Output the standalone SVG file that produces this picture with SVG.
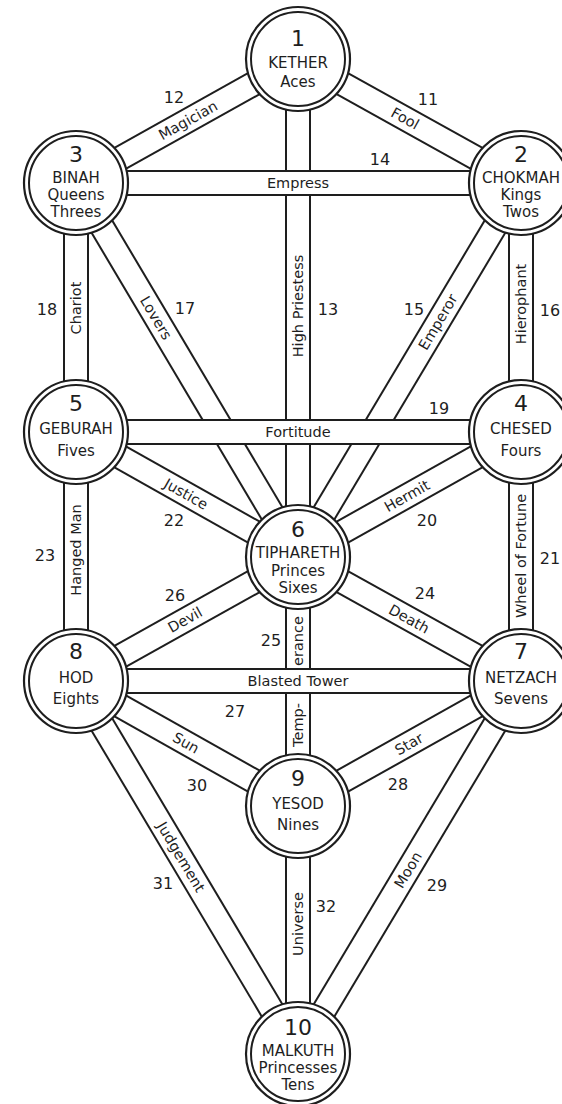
<svg xmlns="http://www.w3.org/2000/svg" width="562" height="1104" viewBox="0 0 562 1104">
<style>
.o{stroke:#1e1e1e;stroke-width:26;fill:none}
.i{stroke:#ffffff;stroke-width:22;fill:none}
.ring{fill:#ffffff;stroke:#1e1e1e;stroke-width:2.2}
.ring2{fill:none;stroke:#1e1e1e;stroke-width:2}
text{font-family:"DejaVu Sans",sans-serif;fill:#1e1e1e;text-anchor:middle}
.pl{font-size:14.5px;dominant-baseline:central}
.pn{font-size:16px;dominant-baseline:central}
.nd{font-size:22px}
.nn{font-size:15px}
</style>
<rect width="562" height="1104" fill="#ffffff"/>
<g id="connectors">
<g id="path-11"><line class="o" x1="298" y1="59" x2="521" y2="183"/><line class="i" x1="298" y1="59" x2="521" y2="183"/></g>
<g id="path-12"><line class="o" x1="298" y1="59" x2="76" y2="183"/><line class="i" x1="298" y1="59" x2="76" y2="183"/></g>
<g id="path-13"><line class="o" x1="298" y1="59" x2="298" y2="557"/><line class="i" x1="298" y1="59" x2="298" y2="557"/></g>
<g id="path-15"><line class="o" x1="521" y1="183" x2="298" y2="557"/><line class="i" x1="521" y1="183" x2="298" y2="557"/></g>
<g id="path-16"><line class="o" x1="521" y1="183" x2="521" y2="432"/><line class="i" x1="521" y1="183" x2="521" y2="432"/></g>
<g id="path-17"><line class="o" x1="76" y1="183" x2="298" y2="557"/><line class="i" x1="76" y1="183" x2="298" y2="557"/></g>
<g id="path-18"><line class="o" x1="76" y1="183" x2="76" y2="432"/><line class="i" x1="76" y1="183" x2="76" y2="432"/></g>
<g id="path-20"><line class="o" x1="521" y1="432" x2="298" y2="557"/><line class="i" x1="521" y1="432" x2="298" y2="557"/></g>
<g id="path-21"><line class="o" x1="521" y1="432" x2="521" y2="681"/><line class="i" x1="521" y1="432" x2="521" y2="681"/></g>
<g id="path-22"><line class="o" x1="76" y1="432" x2="298" y2="557"/><line class="i" x1="76" y1="432" x2="298" y2="557"/></g>
<g id="path-23"><line class="o" x1="76" y1="432" x2="76" y2="681"/><line class="i" x1="76" y1="432" x2="76" y2="681"/></g>
<g id="path-24"><line class="o" x1="298" y1="557" x2="521" y2="681"/><line class="i" x1="298" y1="557" x2="521" y2="681"/></g>
<g id="path-25"><line class="o" x1="298" y1="557" x2="298" y2="806"/><line class="i" x1="298" y1="557" x2="298" y2="806"/></g>
<g id="path-26"><line class="o" x1="298" y1="557" x2="76" y2="681"/><line class="i" x1="298" y1="557" x2="76" y2="681"/></g>
<g id="path-28"><line class="o" x1="521" y1="681" x2="298" y2="806"/><line class="i" x1="521" y1="681" x2="298" y2="806"/></g>
<g id="path-29"><line class="o" x1="521" y1="681" x2="298" y2="1054"/><line class="i" x1="521" y1="681" x2="298" y2="1054"/></g>
<g id="path-30"><line class="o" x1="76" y1="681" x2="298" y2="806"/><line class="i" x1="76" y1="681" x2="298" y2="806"/></g>
<g id="path-31"><line class="o" x1="76" y1="681" x2="298" y2="1054"/><line class="i" x1="76" y1="681" x2="298" y2="1054"/></g>
<g id="path-32"><line class="o" x1="298" y1="806" x2="298" y2="1054"/><line class="i" x1="298" y1="806" x2="298" y2="1054"/></g>
<g id="path-14"><line class="o" x1="76" y1="183" x2="521" y2="183"/><line class="i" x1="76" y1="183" x2="521" y2="183"/></g>
<g id="path-19"><line class="o" x1="76" y1="432" x2="521" y2="432"/><line class="i" x1="76" y1="432" x2="521" y2="432"/></g>
<g id="path-27"><line class="o" x1="76" y1="681" x2="521" y2="681"/><line class="i" x1="76" y1="681" x2="521" y2="681"/></g>
</g>
<g id="path-labels">
<text class="pl" transform="translate(188,120.4) rotate(-29.2)">Magician</text>
<text class="pl" transform="translate(405,118.5) rotate(29.2)">Fool</text>
<text class="pl" x="298" y="183">Empress</text>
<text class="pl" transform="translate(298,306) rotate(-90)">High Priestess</text>
<text class="pl" transform="translate(156,318) rotate(59.3)">Lovers</text>
<text class="pl" transform="translate(438,322) rotate(-59.3)">Emperor</text>
<text class="pl" transform="translate(76,308) rotate(-90)">Chariot</text>
<text class="pl" transform="translate(521,304) rotate(-90)">Hierophant</text>
<text class="pl" x="298" y="432">Fortitude</text>
<text class="pl" transform="translate(186,494) rotate(29.4)">Justice</text>
<text class="pl" transform="translate(407,496) rotate(-29.4)">Hermit</text>
<text class="pl" transform="translate(76,550) rotate(-90)">Hanged Man</text>
<text class="pl" transform="translate(521,556) rotate(-90)">Wheel of Fortune</text>
<text class="pl" transform="translate(185,620) rotate(-29.2)">Devil</text>
<text class="pl" transform="translate(409,619) rotate(29.2)">Death</text>
<text class="pl" transform="translate(298,641) rotate(-90)">erance</text>
<text class="pl" x="298" y="681">Blasted Tower</text>
<text class="pl" transform="translate(298,725) rotate(-90)">Temp-</text>
<text class="pl" transform="translate(186,743) rotate(29.4)">Sun</text>
<text class="pl" transform="translate(409,744) rotate(-29.4)">Star</text>
<text class="pl" transform="translate(181,857) rotate(59.2)">Judgement</text>
<text class="pl" transform="translate(408,870) rotate(-59.2)">Moon</text>
<text class="pl" transform="translate(298,924) rotate(-90)">Universe</text>
</g>
<g id="path-numbers">
<text class="pn" x="174" y="97">12</text>
<text class="pn" x="428" y="99">11</text>
<text class="pn" x="380" y="159">14</text>
<text class="pn" x="47" y="309">18</text>
<text class="pn" x="185" y="308">17</text>
<text class="pn" x="328" y="309">13</text>
<text class="pn" x="414" y="309">15</text>
<text class="pn" x="550" y="310">16</text>
<text class="pn" x="439" y="408">19</text>
<text class="pn" x="174" y="520">22</text>
<text class="pn" x="427" y="520">20</text>
<text class="pn" x="45" y="555">23</text>
<text class="pn" x="550" y="558">21</text>
<text class="pn" x="175" y="595">26</text>
<text class="pn" x="425" y="593">24</text>
<text class="pn" x="271" y="640">25</text>
<text class="pn" x="235" y="711">27</text>
<text class="pn" x="197" y="785">30</text>
<text class="pn" x="398" y="784">28</text>
<text class="pn" x="163" y="883">31</text>
<text class="pn" x="437" y="885">29</text>
<text class="pn" x="326" y="906">32</text>
</g>
<g id="node-1"><circle class="ring" cx="298" cy="59" r="52"/><circle class="ring2" cx="298" cy="59" r="47"/>
<text class="nd" x="298" y="46">1</text><text class="nn" x="298" y="68">KETHER</text><text class="nn" x="298" y="87">Aces</text></g>
<g id="node-2"><circle class="ring" cx="521" cy="183" r="52"/><circle class="ring2" cx="521" cy="183" r="47"/>
<text class="nd" x="521" y="162">2</text><text class="nn" x="521" y="183">CHOKMAH</text><text class="nn" x="521" y="200">Kings</text><text class="nn" x="521" y="217">Twos</text></g>
<g id="node-3"><circle class="ring" cx="76" cy="183" r="52"/><circle class="ring2" cx="76" cy="183" r="47"/>
<text class="nd" x="76" y="162">3</text><text class="nn" x="76" y="183">BINAH</text><text class="nn" x="76" y="200">Queens</text><text class="nn" x="76" y="217">Threes</text></g>
<g id="node-4"><circle class="ring" cx="521" cy="432" r="52"/><circle class="ring2" cx="521" cy="432" r="47"/>
<text class="nd" x="521" y="411">4</text><text class="nn" x="521" y="434">CHESED</text><text class="nn" x="521" y="456">Fours</text></g>
<g id="node-5"><circle class="ring" cx="76" cy="432" r="52"/><circle class="ring2" cx="76" cy="432" r="47"/>
<text class="nd" x="76" y="411">5</text><text class="nn" x="76" y="434">GEBURAH</text><text class="nn" x="76" y="456">Fives</text></g>
<g id="node-6"><circle class="ring" cx="298" cy="557" r="52"/><circle class="ring2" cx="298" cy="557" r="47"/>
<text class="nd" x="298" y="537">6</text><text class="nn" x="298" y="558">TIPHARETH</text><text class="nn" x="298" y="576">Princes</text><text class="nn" x="298" y="593">Sixes</text></g>
<g id="node-7"><circle class="ring" cx="521" cy="681" r="52"/><circle class="ring2" cx="521" cy="681" r="47"/>
<text class="nd" x="521" y="659">7</text><text class="nn" x="521" y="683">NETZACH</text><text class="nn" x="521" y="704">Sevens</text></g>
<g id="node-8"><circle class="ring" cx="76" cy="681" r="52"/><circle class="ring2" cx="76" cy="681" r="47"/>
<text class="nd" x="76" y="659">8</text><text class="nn" x="76" y="683">HOD</text><text class="nn" x="76" y="704">Eights</text></g>
<g id="node-9"><circle class="ring" cx="298" cy="806" r="52"/><circle class="ring2" cx="298" cy="806" r="47"/>
<text class="nd" x="298" y="786">9</text><text class="nn" x="298" y="809">YESOD</text><text class="nn" x="298" y="830">Nines</text></g>
<g id="node-10"><circle class="ring" cx="298" cy="1054" r="52"/><circle class="ring2" cx="298" cy="1054" r="47"/>
<text class="nd" x="298" y="1035">10</text><text class="nn" x="298" y="1056">MALKUTH</text><text class="nn" x="298" y="1073">Princesses</text><text class="nn" x="298" y="1090">Tens</text></g>
</svg>
